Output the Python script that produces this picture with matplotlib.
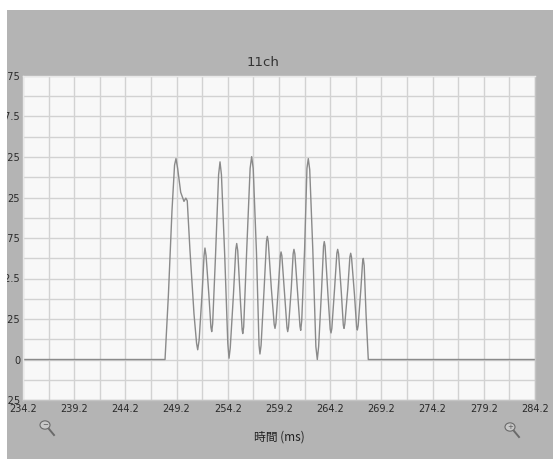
import numpy as np
import matplotlib.pyplot as plt
from matplotlib.patches import Rectangle, Circle
from matplotlib.lines import Line2D
from matplotlib.ticker import FixedLocator, MultipleLocator, FuncFormatter

# ── Data (time in ms, amplitude) ──────────────────────────────────────────────
t_ms = [234.2, 248.07, 248.4, 248.75, 249.0, 249.14, 249.3, 249.6, 249.92, 250.1,
        250.24, 250.5, 250.9, 251.15, 251.26, 251.4, 251.7, 251.88, 251.97, 252.08,
        252.35, 252.55, 252.63, 252.72, 253.0, 253.3, 253.44, 253.58, 253.9, 254.2,
        254.32, 254.44, 254.75, 254.98, 255.07, 255.17, 255.45, 255.6, 255.66, 255.75,
        256.05, 256.38, 256.53, 256.68, 257.0, 257.25, 257.34, 257.45, 257.75, 257.98,
        258.06, 258.15, 258.45, 258.73, 258.81, 258.9, 259.15, 259.33, 259.4, 259.48,
        259.75, 259.98, 260.05, 260.13, 260.4, 260.58, 260.66, 260.75, 261.03, 261.25,
        261.32, 261.42, 261.7, 261.93, 262.06, 262.2, 262.5, 262.8, 262.94, 263.07,
        263.35, 263.55, 263.62, 263.7, 263.98, 264.2, 264.28, 264.36, 264.63, 264.85,
        264.93, 265.02, 265.28, 265.48, 265.55, 265.63, 265.92, 266.12, 266.2, 266.28,
        266.57, 266.78, 266.85, 266.93, 267.2, 267.36, 267.43, 267.52, 267.7, 267.92,
        284.2]
amp  = [0, 0, 10, 23, 30, 31.0, 29.5, 25.8, 24.4, 24.9,
        24.5, 17, 7, 2.5, 1.5, 3, 10.5, 16, 17.2, 16,
        10, 5, 4.3, 5.5, 16, 28.5, 30.5, 28.5, 16, 2.5,
        0.2, 1.8, 10, 17, 17.9, 16.8, 8.5, 4.6, 4.0, 5,
        17, 29.5, 31.3, 29.5, 16.5, 2.2, 0.85, 2.2, 11, 18.3,
        19.0, 18.2, 11, 5.4, 4.8, 5.6, 11.5, 16, 16.6, 16,
        10, 4.9, 4.3, 5, 11, 16.3, 17.0, 16.3, 10, 5.1,
        4.5, 6, 17, 29.5, 31.0, 29.3, 17, 2, 0, 2,
        10.5, 17.5, 18.2, 17.5, 10, 4.7, 4.1, 4.8, 11, 16.4,
        17.0, 16.3, 10.5, 5.3, 4.8, 5.5, 11, 15.8, 16.4, 15.8,
        10, 5, 4.55, 5.2, 11, 15, 15.6, 14.5, 7, 0,
        0]

X_TICKS = [234.2, 239.2, 244.2, 249.2, 254.2, 259.2, 264.2, 269.2, 274.2, 279.2, 284.2]
X_MINOR = [236.7, 241.7, 246.7, 251.7, 256.7, 261.7, 266.7, 271.7, 276.7, 281.7]
Y_TICKS = [-6.25, 0, 6.25, 12.5, 18.75, 25, 31.25, 37.5, 43.75]

W, H = 553, 459
BG_GREY = "#b4b4b4"

fig = plt.figure(figsize=(W / 100, H / 100), dpi=100)
fig.patch.set_facecolor("white")

# grey panel (white strip on top and left like the screenshot)
fig.add_artist(Rectangle((7 / W, 0), 1, 1 - 10 / H, transform=fig.transFigure,
                         facecolor=BG_GREY, edgecolor="none", zorder=-5))

ax = fig.add_axes([23 / W, 1 - 400 / H, 512 / W, 324 / H])
ax.set_facecolor("#f8f8f8")
ax.plot(t_ms, amp, color="#8a8a8a", linewidth=1.0, solid_joinstyle="round")

ax.set_xlim(234.2, 284.2)
ax.set_ylim(-6.25, 43.75)
ax.set_xticks(X_TICKS)
ax.set_yticks(Y_TICKS)
ax.xaxis.set_minor_locator(FixedLocator(X_MINOR))
ax.yaxis.set_minor_locator(MultipleLocator(3.125))
ax.xaxis.set_major_formatter(FuncFormatter(lambda v, p: f"{v:.1f}"))
ax.yaxis.set_major_formatter(FuncFormatter(lambda v, p: f"{v:g}"))
ax.grid(True, which="both", color="#d2d2d2", linewidth=1.0)
ax.set_axisbelow(True)
ax.tick_params(which="both", length=0, labelsize=7, colors="#2a2a2a")
ax.tick_params(axis="x", pad=3)
ax.tick_params(axis="y", pad=2)
for side, sp in ax.spines.items():
    sp.set_color("#e8e8e8")
    sp.set_linewidth(1.0)
ax.spines["bottom"].set_color("#c4c4c4")
ax.spines["right"].set_color("#c4c4c4")

fig.text(263 / W, 1 - 62 / H, "11ch", ha="center", va="center",
         fontsize=9.5, color="#333333")
fig.text(279 / W, 1 - 437 / H, "時間 (ms)", ha="center", va="center",
         fontsize=8.5, color="#222222", family=["Noto Sans CJK JP", "DejaVu Sans"])

# zoom-out / zoom-in magnifier icons
for cx, cy, sign in [(45, 425, "−"), (510, 427, "+")]:
    fig.add_artist(Circle((cx / W, 1 - cy / H), 5 / W, transform=fig.transFigure,
                          facecolor="#c8c8c8", edgecolor="#6a6a6a", linewidth=0.8))
    fig.add_artist(Line2D([(cx + 4) / W, (cx + 9) / W],
                          [1 - (cy + 4) / H, 1 - (cy + 10) / H],
                          transform=fig.transFigure, color="#6a6a6a", linewidth=1.4))
    fig.text(cx / W, 1 - cy / H, sign, ha="center", va="center",
             fontsize=5, color="#555555")

# white strip hides the left part of the y labels, as in the screenshot
fig.add_artist(Rectangle((0, 0), 7 / W, 1, transform=fig.transFigure,
                         facecolor="white", edgecolor="none", zorder=10))

fig.savefig("out.png", dpi=100)
